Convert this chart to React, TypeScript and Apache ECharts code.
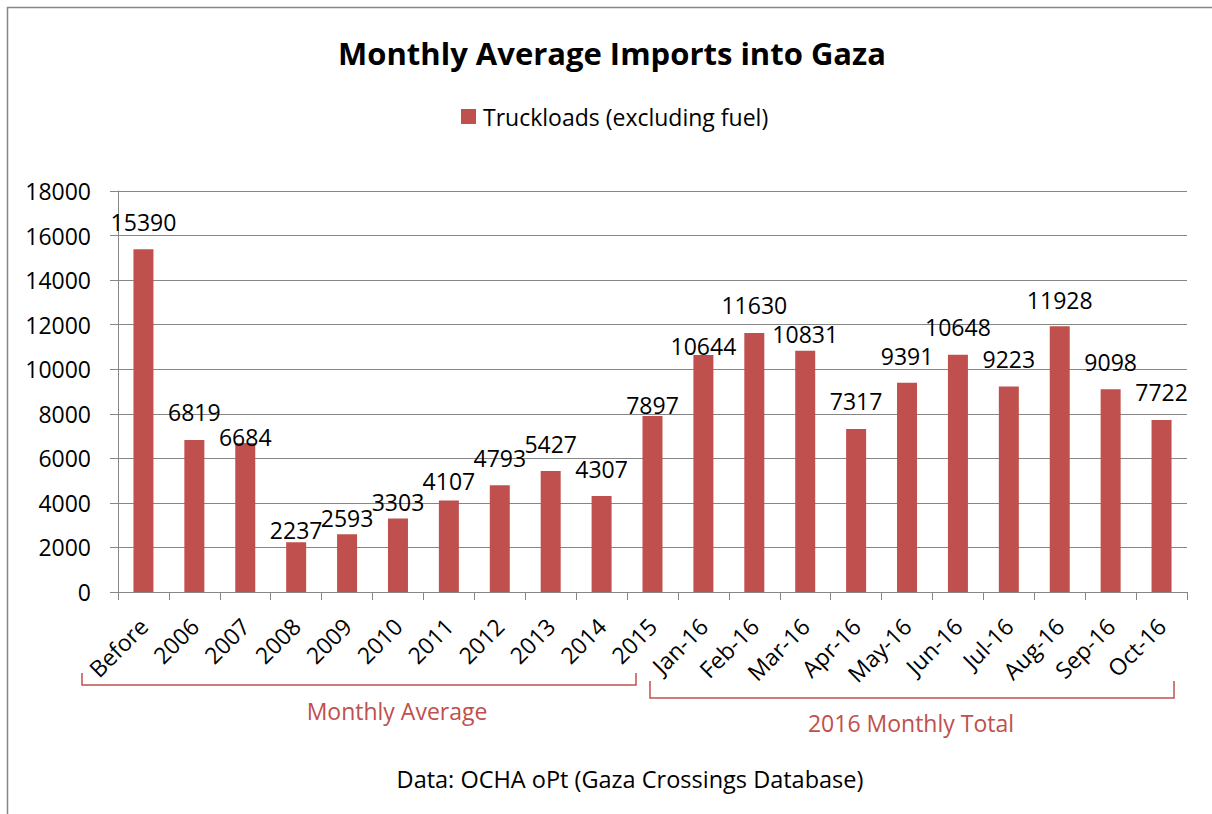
import React, { useEffect, useRef } from "react";
import * as echarts from "echarts";

const CATEGORIES = [
  "Before", "2006", "2007", "2008", "2009", "2010", "2011", "2012", "2013", "2014", "2015",
  "Jan-16", "Feb-16", "Mar-16", "Apr-16", "May-16", "Jun-16", "Jul-16", "Aug-16", "Sep-16", "Oct-16",
];
const TRUCKLOADS = [
  15390, 6819, 6684, 2237, 2593, 3303, 4107, 4793, 5427, 4307, 7897,
  10644, 11630, 10831, 7317, 9391, 10648, 9223, 11928, 9098, 7722,
];
const SERIES_NAME = "Truckloads (excluding fuel)";
const Y_MIN = 0;
const Y_MAX = 18000;
const Y_INTERVAL = 2000;

// label placement (style only): pixels the value label sits above its bar
const LABEL_LIFT = [16, 17, -5, 1, 5, 5, 8, 16, 16, 16, 0, -3, 16, 5, 16, 15, 16, 16, 15, 16, 16];

const FONT = "'Open Sans', 'Noto Sans', sans-serif";
const FS = 23;
const RED = "#C0504D";
const GRAY = "#868686";

export default function App() {
  const ref = useRef<HTMLDivElement>(null);
  useEffect(() => {
    if (!ref.current) return;
    const chart = echarts.init(ref.current, undefined, { renderer: "svg" });
    chart.setOption({
      animation: false,
      backgroundColor: "#fff",
      textStyle: { fontFamily: FONT },
      legend: {
        left: 461,
        top: 105,
        padding: 0,
        icon: "rect",
        itemWidth: 15,
        itemHeight: 15,
        textStyle: { fontSize: FS, color: "#000", fontFamily: FONT, padding: [0, 0, 0, 2] },
        data: [SERIES_NAME],
      },
      grid: { left: 118, right: 25, top: 191, bottom: 222, containLabel: false },
      xAxis: {
        type: "category",
        data: CATEGORIES,
        boundaryGap: true,
        axisLine: { lineStyle: { color: GRAY, width: 1 } },
        axisTick: { show: true, length: 8, alignWithLabel: false, lineStyle: { color: GRAY } },
        axisLabel: {
          rotate: 45,
          interval: 0,
          margin: 30,
          fontSize: FS,
          color: "#000",
          fontFamily: FONT,
        },
      },
      yAxis: {
        type: "value",
        min: Y_MIN,
        max: Y_MAX,
        interval: Y_INTERVAL,
        axisLine: { show: true, lineStyle: { color: GRAY, width: 1 } },
        axisTick: { show: true, length: 8, lineStyle: { color: GRAY } },
        axisLabel: {
          margin: 27,
          fontSize: FS,
          color: "#000",
          fontFamily: FONT,
          formatter: (v: number) => String(v),
        },
        splitLine: { show: true, lineStyle: { color: GRAY, width: 1 } },
      },
      series: [
        {
          name: SERIES_NAME,
          type: "bar",
          barWidth: 20,
          itemStyle: { color: RED },
          label: {
            show: true,
            position: "top",
            distance: 0,
            fontSize: FS,
            color: "#000",
            fontFamily: FONT,
          },
          data: TRUCKLOADS.map((v, i) => ({ value: v, label: { offset: [0, -LABEL_LIFT[i]] } })),
        },
      ],
      graphic: [
        {
          type: "rect",
          shape: { x: 7.5, y: 7.5, width: 1400, height: 1000 },
          style: { fill: "none", stroke: GRAY, lineWidth: 1.5 },
          silent: true,
        },
        {
          type: "text",
          x: 612,
          y: 53,
          style: {
            text: "Monthly Average Imports into Gaza",
            fontSize: 31,
            fontWeight: "bold",
            fontFamily: FONT,
            fill: "#000",
            align: "center",
            verticalAlign: "middle",
          },
        },
        {
          type: "polyline",
          shape: { points: [[82, 673], [82, 685], [636, 685], [636, 673]] },
          style: { stroke: RED, lineWidth: 1.5, fill: "none" },
        },
        {
          type: "polyline",
          shape: { points: [[650, 681], [650, 698], [1174, 698], [1174, 681]] },
          style: { stroke: RED, lineWidth: 1.5, fill: "none" },
        },
        {
          type: "text",
          x: 397,
          y: 711,
          style: {
            text: "Monthly Average",
            fontSize: FS,
            fontFamily: FONT,
            fill: RED,
            align: "center",
            verticalAlign: "middle",
          },
        },
        {
          type: "text",
          x: 911,
          y: 723,
          style: {
            text: "2016 Monthly Total",
            fontSize: FS,
            fontFamily: FONT,
            fill: RED,
            align: "center",
            verticalAlign: "middle",
          },
        },
        {
          type: "text",
          x: 630,
          y: 779,
          style: {
            text: "Data: OCHA oPt (Gaza Crossings Database)",
            fontSize: 23.5,
            fontFamily: FONT,
            fill: "#000",
            align: "center",
            verticalAlign: "middle",
          },
        },
      ],
    });
    return () => chart.dispose();
  }, []);
  return (
    <div
      ref={ref}
      style={{ position: "absolute", left: 0, top: 0, width: 1212, height: 814 }}
    />
  );
}
